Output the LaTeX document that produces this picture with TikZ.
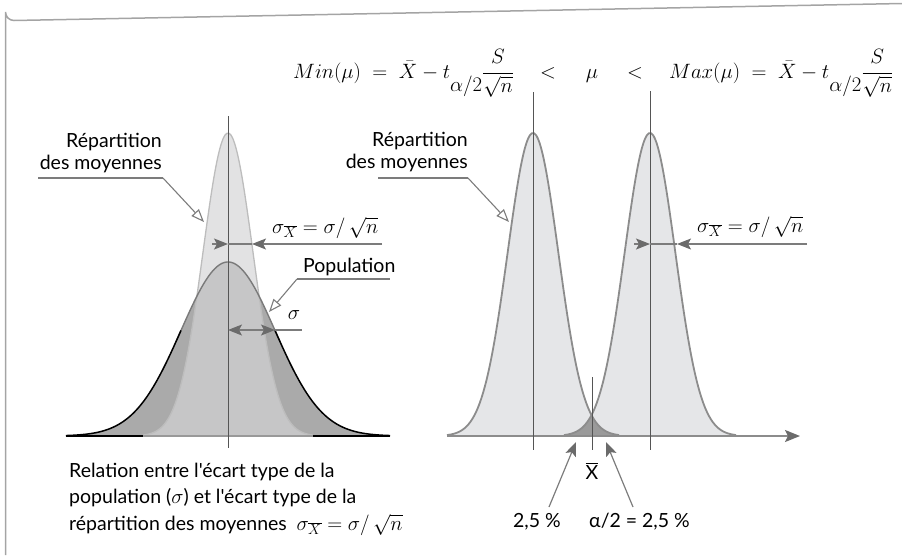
\documentclass[tikz,border=0pt]{standalone}
\usepackage{fontspec}
\setmainfont{Lato}[Ligatures=TeXOff]
\usetikzlibrary{arrows.meta}
\definecolor{framec}{HTML}{A4A4A4}
\definecolor{leadc}{HTML}{7C7C7C}
\definecolor{headc}{HTML}{6B6B6B}
\definecolor{vlinec}{HTML}{555555}
\definecolor{lightfill}{HTML}{E5E6E8}
\definecolor{narrowfill}{HTML}{E2E2E3}
\definecolor{midfill}{HTML}{C6C6C7}
\definecolor{popfill}{HTML}{AAAAAA}
\definecolor{narrowedge}{HTML}{BDBDBD}
\definecolor{belledge}{HTML}{8C8C8C}
\definecolor{overlapfill}{HTML}{9A9A9A}
\definecolor{poptopc}{HTML}{7A7A7A}
\definecolor{basemid}{HTML}{999999}
\newcommand{\popcurve}[2]{plot[domain=#1:#2,samples=90,smooth] ({228+47*\x},{436-174*exp(-0.5*(\x)*(\x))})}
\newcommand{\narrowcurve}{plot[domain=-3.4:3.4,samples=90,smooth] ({228+25*\x},{436-303*exp(-0.5*(\x)*(\x))})}
\newcommand{\bellA}{plot[domain=-3.4:3.4,samples=90,smooth] ({533+25.3*\x},{436-303*exp(-0.5*(\x)*(\x))})}
\newcommand{\bellB}{plot[domain=-3.4:3.4,samples=90,smooth] ({650+25.3*\x},{436-303*exp(-0.5*(\x)*(\x))})}
\newcommand{\tsub}{t\raisebox{-13pt}{$\alpha/2$}\displaystyle\frac{S}{\sqrt{n}}}
\begin{document}
\begin{tikzpicture}[x=1pt,y=-1pt,
  lbl/.style={font=\fontsize{19.5}{24}\selectfont, inner sep=0pt},
  fml/.style={font=\fontsize{20.5}{26}\selectfont, inner sep=0pt},
  sfml/.style={font=\fontsize{20}{24}\selectfont, inner sep=0pt},
  leader/.style={draw=leadc, line width=1.1pt},
  openhead/.style={leader, -{Triangle[open, length=13pt, width=10pt, fill=white]}},
  fillhead/.style={draw=leadc, line width=1.2pt, -{Stealth[length=14pt, width=11pt, inset=3pt, color=headc]}},
  vline/.style={draw=vlinec, line width=0.8pt}
]
\useasboundingbox (0,0) rectangle (902,555);
% frame
\draw[framec, line width=1.5pt] (5.5,555) -- (5.5,12) arc[start angle=180, end angle=90, radius=8.5] -- (902,3.5);

% ---------- left panel ----------
\fill[narrowfill] \narrowcurve -- cycle;
\fill[popfill] \popcurve{-3.45}{3.45} -- cycle;
\begin{scope}
  \clip \popcurve{-3.45}{3.45} -- cycle;
  \fill[midfill] \narrowcurve -- cycle;
\end{scope}
\draw[narrowedge, line width=1.3pt] \narrowcurve;
\draw[poptopc, line width=1.4pt] \popcurve{-1.1}{1.1};
\draw[black, line width=1.5pt] \popcurve{-3.45}{-1.0};
\draw[black, line width=1.5pt] \popcurve{1.0}{3.45};
\coordinate (lb0) at (66,436);
\coordinate (lb1) at (143,436);
\coordinate (lb2) at (313,436);
\coordinate (lb3) at (390,436);
\draw[black, line width=1.6pt] (lb0) -- (lb1);
\draw[black, line width=1.6pt] (lb2) -- (lb3);
\draw[basemid, line width=1.6pt] (lb1) -- (lb2);
\coordinate (lvt) at (228,116);
\coordinate (lvb) at (228,448);
\draw[vline] (lvt) -- (lvb);

% ---------- right panel ----------
\fill[lightfill] \bellA -- cycle;
\fill[lightfill] \bellB -- cycle;
\begin{scope}
  \clip \bellA -- cycle;
  \fill[overlapfill] \bellB -- cycle;
\end{scope}
\draw[belledge, line width=1.8pt] \bellA;
\draw[belledge, line width=1.8pt] \bellB;
\coordinate (ax0) at (447,436);
\coordinate (ax1) at (800,436);
\draw[draw=belledge, line width=2pt, -{Stealth[length=15pt, width=12pt, inset=3pt, color=headc]}] (ax0) -- (ax1);
\coordinate (rv1t) at (533,92);
\coordinate (rv1b) at (533,450);
\coordinate (rv2t) at (650,91);
\coordinate (rv2b) at (650,450);
\draw[vline] (rv1t) -- (rv1b);
\draw[vline] (rv2t) -- (rv2b);
\coordinate (xbt) at (592,377);
\coordinate (xbb) at (592,450);
\draw[vline, line width=0.6pt] (xbt) -- (xbb);

% ---------- top formula ----------
\node[fml, anchor=base west] (minf) at (293,78) {$Min(\mu)\;=\;\bar X - \tsub$};
\node[fml, anchor=base] (lta) at (548,78) {$<$};
\node[fml, anchor=base] (mu) at (592,78) {$\mu$};
\node[fml, anchor=base] (ltb) at (635,78) {$<$};
\node[fml, anchor=base west] (maxf) at (669,78) {$Max(\mu)\;=\;\bar X - \tsub$};

% ---------- left labels ----------
\node[lbl, anchor=base east] (rep1) at (162,147) {Répartition};
\node[lbl, anchor=base east] (moy1) at (162,169) {des moyennes};
\coordinate (u1a) at (38,178);
\coordinate (u1b) at (163,178);
\coordinate (t1) at (204,222);
\draw[leader] (u1a) -- (u1b);
\draw[openhead] (u1b) -- (t1);

\node[sfml, anchor=base west] (sxa) at (272,233) {$\sigma_{\overline{X}} = \sigma/\,\sqrt{n}$};
\coordinate (sa0) at (212,244);
\coordinate (sa1) at (228,244);
\coordinate (sa2) at (252,244);
\coordinate (sa3) at (382,244);
\draw[leader] (sa1) -- (sa2);
\draw[fillhead] (sa0) -- (sa1);
\draw[fillhead] (sa3) -- (sa2);

\node[lbl, anchor=base west] (pop) at (303,272) {Population};
\coordinate (pu0) at (297,279);
\coordinate (pu1) at (390,279);
\coordinate (pt) at (269,312);
\draw[leader] (pu0) -- (pu1);
\draw[openhead] (pu0) -- (pt);

\node[sfml, anchor=base] (sig) at (294,319) {$\sigma$};
\coordinate (sg0) at (228,330);
\coordinate (sg1) at (275,330);
\coordinate (sg2) at (302,330);
\draw[leader] (sg1) -- (sg2);
\draw[fillhead, {Stealth[length=14pt, width=11pt, inset=3pt, color=headc]}-{Stealth[length=14pt, width=11pt, inset=3pt, color=headc]}] (sg0) -- (sg1);

\node[lbl, anchor=base west] (rel1) at (69,477) {Relation entre l'écart type de la};
\node[lbl, anchor=base west] (rel2) at (69,503) {population ($\sigma$) et l'écart type de la};
\node[lbl, anchor=base west] (rel3) at (69,530) {répartition des moyennes\enspace\fontsize{20}{24}\selectfont$\sigma_{\overline{X}} = \sigma/\,\sqrt{n}$};

% ---------- right labels ----------
\node[lbl, anchor=base east] (rep2) at (468,146) {Répartition};
\node[lbl, anchor=base east] (moy2) at (468,168) {des moyennes};
\coordinate (u2a) at (378,178);
\coordinate (u2b) at (468,178);
\coordinate (t2) at (509,222);
\draw[leader] (u2a) -- (u2b);
\draw[openhead] (u2b) -- (t2);

\node[sfml, anchor=base west] (sxb) at (697,232) {$\sigma_{\overline{X}} = \sigma/\,\sqrt{n}$};
\coordinate (sb0) at (634,244);
\coordinate (sb1) at (650,244);
\coordinate (sb2) at (677,244);
\coordinate (sb3) at (807,244);
\draw[leader] (sb1) -- (sb2);
\draw[fillhead] (sb0) -- (sb1);
\draw[fillhead] (sb3) -- (sb2);

\node[lbl, anchor=base] (xbar) at (592,479) {$\overline{\hbox{X}}$};
\node[lbl, anchor=base] (p1) at (537,527) {2,5 \%};
\node[lbl, anchor=base west] (p2) at (589,527) {α/2 = 2,5 \%};
\coordinate (a1s) at (549,507);
\coordinate (a1t) at (576,442);
\coordinate (a2s) at (633,507);
\coordinate (a2t) at (606,442);
\draw[fillhead] (a1s) -- (a1t);
\draw[fillhead] (a2s) -- (a2t);
\end{tikzpicture}
\end{document}
